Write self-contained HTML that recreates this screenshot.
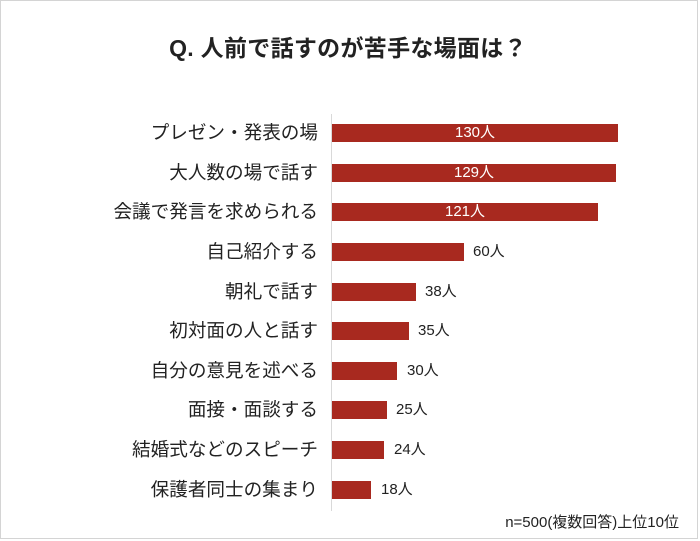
<!DOCTYPE html>
<html><head><meta charset="utf-8"><style>
html,body{margin:0;padding:0;background:#fff;}
body{width:700px;height:541px;position:relative;overflow:hidden;font-family:"Liberation Sans","Noto Sans CJK JP",sans-serif;}
.frame{position:absolute;left:0;top:0;width:696px;height:537px;border:1px solid #d4d4d4;}
.title{position:absolute;left:0;width:696px;top:29px;text-align:center;font-size:23px;font-weight:bold;color:#222;letter-spacing:0.3px;}
.axis{position:absolute;left:331px;top:114px;width:1px;height:397px;background:#d9d9d9;}
.lab{position:absolute;right:382px;font-size:18.6px;color:#222;line-height:20px;white-space:nowrap;}
.bar{position:absolute;left:332px;height:18px;background:#a8291f;}
.in{position:absolute;color:#fff;font-size:15px;line-height:18px;text-align:center;}
.out{position:absolute;color:#222;font-size:15px;line-height:18px;}
.foot{position:absolute;right:21px;top:511px;font-size:15px;color:#222;}
</style></head><body>
<div class="frame"></div>
<div class="title">Q. 人前で話すのが苦手な場面は？</div>
<div class="axis"></div>

<div class="lab" style="top:123px">プレゼン・発表の場</div>
<div class="bar" style="top:124px;width:286px"></div><div class="in" style="left:332px;width:286px;top:124px">130人</div>

<div class="lab" style="top:163px">大人数の場で話す</div>
<div class="bar" style="top:164px;width:284px"></div><div class="in" style="left:332px;width:284px;top:164px">129人</div>

<div class="lab" style="top:202px">会議で発言を求められる</div>
<div class="bar" style="top:203px;width:266px"></div><div class="in" style="left:332px;width:266px;top:203px">121人</div>

<div class="lab" style="top:242px">自己紹介する</div>
<div class="bar" style="top:243px;width:132px"></div><div class="out" style="left:473px;top:243px">60人</div>

<div class="lab" style="top:282px">朝礼で話す</div>
<div class="bar" style="top:283px;width:84px"></div><div class="out" style="left:425px;top:283px">38人</div>

<div class="lab" style="top:321px">初対面の人と話す</div>
<div class="bar" style="top:322px;width:77px"></div><div class="out" style="left:418px;top:322px">35人</div>

<div class="lab" style="top:361px">自分の意見を述べる</div>
<div class="bar" style="top:362px;width:65px"></div><div class="out" style="left:407px;top:362px">30人</div>

<div class="lab" style="top:400px">面接・面談する</div>
<div class="bar" style="top:401px;width:55px"></div><div class="out" style="left:396px;top:401px">25人</div>

<div class="lab" style="top:440px">結婚式などのスピーチ</div>
<div class="bar" style="top:441px;width:52px"></div><div class="out" style="left:394px;top:441px">24人</div>

<div class="lab" style="top:480px">保護者同士の集まり</div>
<div class="bar" style="top:481px;width:39px"></div><div class="out" style="left:381px;top:481px">18人</div>

<div class="foot">n=500(複数回答)上位10位</div>
</body></html>
